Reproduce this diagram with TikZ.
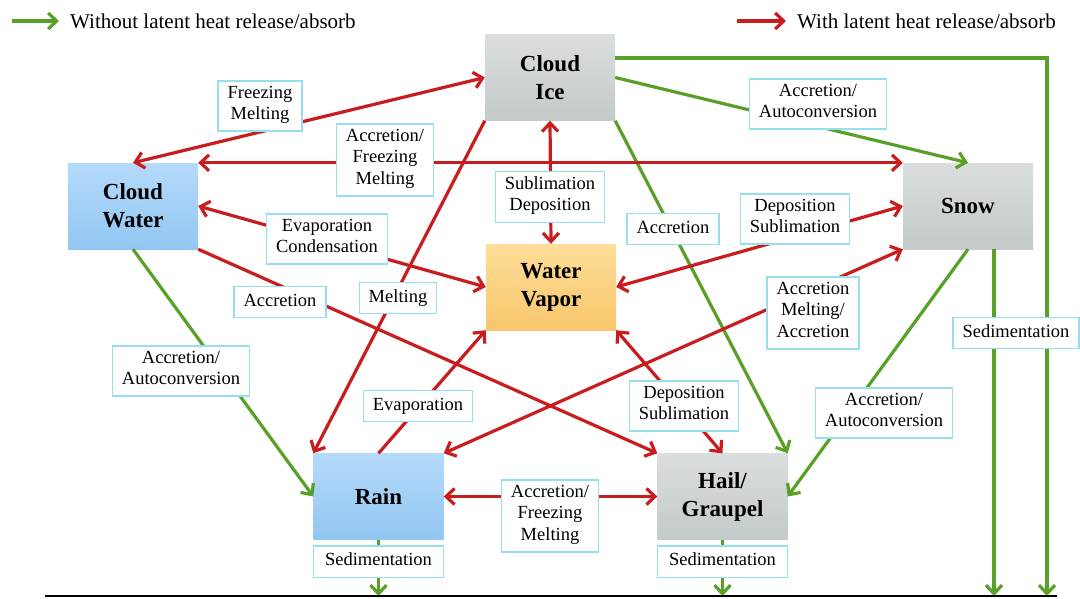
\documentclass[tikz,border=0pt]{standalone}
\usepackage{fontspec}
\setmainfont{Liberation Serif}
\usetikzlibrary{arrows.meta,positioning,calc}

\definecolor{grnc}{RGB}{88,160,40}
\definecolor{redc}{RGB}{200,28,30}
\definecolor{lblc}{RGB}{150,224,238}
\definecolor{grayT}{RGB}{218,222,222}
\definecolor{grayB}{RGB}{196,201,201}
\definecolor{blueT}{RGB}{180,218,250}
\definecolor{blueB}{RGB}{146,198,242}
\definecolor{orgT}{RGB}{252,222,152}
\definecolor{orgB}{RGB}{249,198,108}

\begin{document}
\begin{tikzpicture}[x=1pt,y=-1pt]
  \tikzstyle{box}=[minimum width=130pt,minimum height=86pt,inner sep=0pt,align=center,font=\bfseries\fontsize{23}{28}\selectfont]
  \tikzstyle{gray box}=[box,top color=grayT,bottom color=grayB]
  \tikzstyle{blue box}=[box,top color=blueT,bottom color=blueB]
  \tikzstyle{vapor box}=[box,top color=orgT,bottom color=orgB]
  \tikzstyle{lbl}=[draw=lblc,line width=1.4pt,fill=white,align=center,inner xsep=9.5pt,inner ysep=5pt,font=\fontsize{18.5}{21.5}\selectfont,execute at begin node=\strut,execute at end node=\strut]
  \tikzstyle{legend}=[anchor=west,inner ysep=0pt,font=\fontsize{21}{25}\selectfont]
  \tikzstyle{grarr}=[draw=grnc,line width=3.2pt,-{Straight Barb[length=8.5pt,width=16pt]}]
  \tikzstyle{rdarr}=[draw=redc,line width=3.2pt,-{Straight Barb[length=8.5pt,width=16pt]}]
  \tikzstyle{rdboth}=[draw=redc,line width=3.2pt,{Straight Barb[length=8.5pt,width=16pt]}-{Straight Barb[length=8.5pt,width=16pt]}]
  \useasboundingbox (0,0) rectangle (1080,598);

  % legend
  \coordinate (lgG) at (12,21);
  \node[legend,inner xsep=11pt] (lgGt) at (59,21) {Without latent heat release/absorb};
  \draw[grarr] (lgG) -- (lgGt.west);
  \coordinate (lgR) at (737,21);
  \node[legend,inner xsep=11pt] (lgRt) at (786,21) {With latent heat release/absorb};
  \draw[rdarr] (lgR) -- (lgRt.west);

  % hydrometeors
  \node[gray box] (ci) at (550,77.5) {Cloud\\Ice};
  \node[blue box] (cw) at (133,206) {Cloud\\Water};
  \node[vapor box] (wv) at (551,287) {Water\\Vapor};
  \node[gray box] (sn) at (968,206) {Snow};
  \node[blue box] (rn) at (378.5,496.5) {Rain};
  \node[gray box] (hg) at (722.5,496.5) {Hail/\\Graupel};

  % ground
  \coordinate (gl) at (45,596);
  \coordinate (gr) at (1057,596);
  \coordinate (ciTurn) at (1047,58);

  % no latent heat
  \draw[grarr] (ci.east) -- (sn.north);
  \draw[grarr] (ci.south east) -- (hg.north east);
  \draw[grarr] (ci.east |- ciTurn) -- (ciTurn) -- (ciTurn |- gl);
  \draw[grarr] (sn.south) -- (hg.east);
  \draw[grarr] ([xshift=26pt]sn.south) -- ([xshift=26pt]sn.south |- gl);
  \draw[grarr] (cw.south) -- (rn.west);
  \draw[grarr] (rn.south) -- (rn.south |- gl);
  \draw[grarr] (hg.south) -- (hg.south |- gl);

  % latent heat
  \draw[rdboth] (cw.north) -- (ci.west);
  \draw[rdboth] (cw.north east) -- (sn.north west);
  \draw[rdboth] (ci.south) -- (wv.north);
  \draw[rdboth] (cw.east) -- (wv.west);
  \draw[rdarr] (ci.south west) -- (rn.north west);
  \draw[rdarr] (cw.south east) -- (hg.north west);
  \draw[rdboth] (wv.east) -- (sn.west);
  \draw[rdboth] (sn.south west) -- (rn.north east);
  \draw[rdarr] (rn.north) -- (wv.south west);
  \draw[rdboth] (wv.south east) -- (hg.north);
  \draw[rdboth] (rn.east) -- (hg.west);

  \draw[line width=2.8pt] (gl) -- (gr);

  % process labels
  \node[lbl] (lFM) at (260,106) {Freezing\\Melting};
  \node[lbl] (lAFMa) at (385,160) {Accretion/\\Freezing\\Melting};
  \node[lbl] (lSD) at (550,197) {Sublimation\\Deposition};
  \node[lbl] (lEC) at (327,239) {Evaporation\\Condensation};
  \node[lbl] (lAccA) at (280,302) {Accretion};
  \node[lbl] (lMelt) at (398,298) {Melting};
  \node[lbl] (lAccB) at (673,229) {Accretion};
  \node[lbl] (lDSa) at (795,219) {Deposition\\Sublimation};
  \node[lbl] (lAMA) at (813,313) {Accretion\\Melting/\\Accretion};
  \node[lbl] (lSedS) at (1016,333) {Sedimentation};
  \node[lbl] (lAAa) at (818,104) {Accretion/\\Autoconversion};
  \node[lbl] (lAAb) at (181,371) {Accretion/\\Autoconversion};
  \node[lbl] (lAAc) at (884,413) {Accretion/\\Autoconversion};
  \node[lbl] (lEvap) at (418,406) {Evaporation};
  \node[lbl] (lAFMb) at (550,516) {Accretion/\\Freezing\\Melting};
  \node[lbl] (lDSb) at (684,406) {Deposition\\Sublimation};
  \node[lbl,minimum width=130pt,below=5.5pt of rn] (lSedR) {Sedimentation};
  \node[lbl,minimum width=130pt,below=5.5pt of hg] (lSedH) {Sedimentation};
\end{tikzpicture}
\end{document}
